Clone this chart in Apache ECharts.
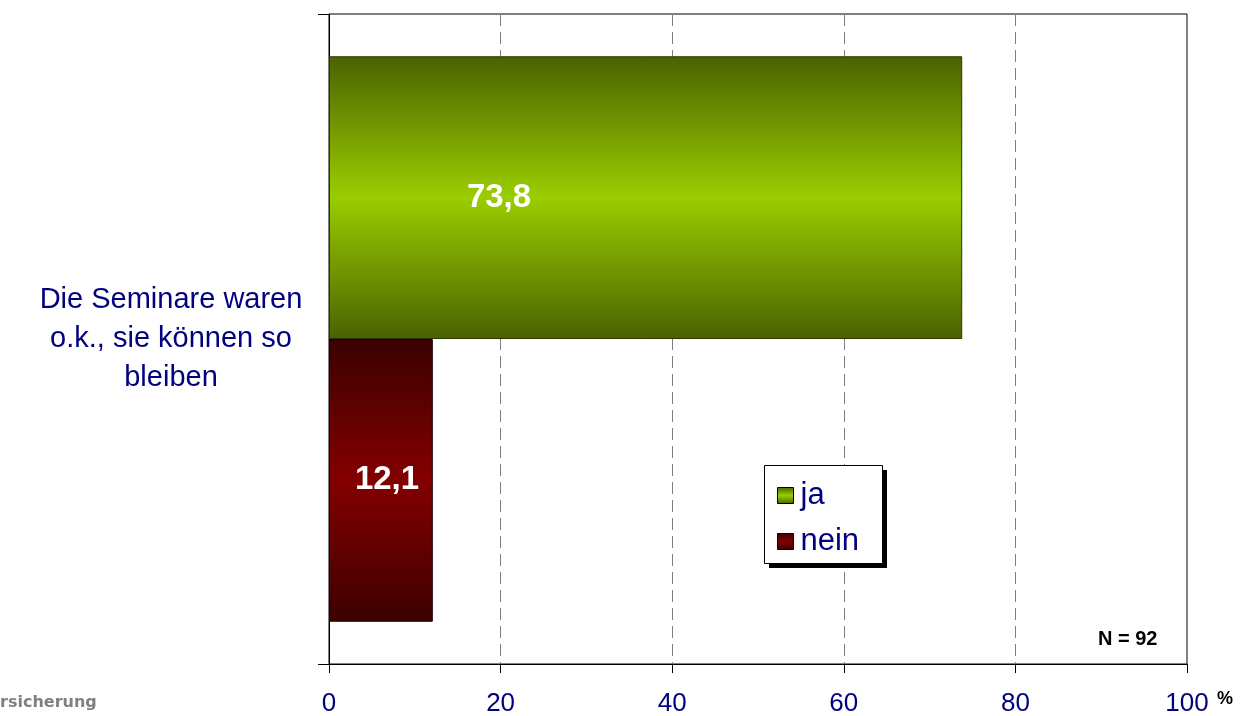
<!DOCTYPE html>
<html>
<head>
<meta charset="utf-8">
<script src="https://cdn.jsdelivr.net/npm/echarts@6/dist/echarts.min.js"></script>
<style>
  html, body { margin: 0; padding: 0; background: #fff; }
  #chart { width: 1253px; height: 716px; }
</style>
</head>
<body>
<div id="chart"></div>
<script>
// Daten
const categories = ["Die Seminare waren\no.k., sie können so\nbleiben"];
const seriesNames = ["ja", "nein"];
const jaValues = [73.8];
const neinValues = [12.1];
const xTicks = [0, 20, 40, 60, 80, 100];
const sampleNote = "N = 92";

// vertikaler Verlauf: dunkel - hell - dunkel
function shade(dark, light) {
  return new echarts.graphic.LinearGradient(0, 0, 0, 1, [
    { offset: 0, color: dark },
    { offset: 0.5, color: light },
    { offset: 1, color: dark }
  ]);
}

const fmt = p => String(p.value).replace(".", ",");

let myChart = echarts.init(document.getElementById("chart"));
let option = {
  animation: false,
  textStyle: { fontFamily: "Liberation Sans, Arial, sans-serif" },
  grid: {
    left: 329, top: 14, right: 66, bottom: 52,
    outerBoundsMode: "none",
    show: true, borderColor: "#000", borderWidth: 1
  },
  legend: {
    data: seriesNames,
    orient: "vertical",
    left: 777, top: 480,
    z: 20,
    padding: 0,
    itemGap: 15,
    itemWidth: 16, itemHeight: 16,
    icon: "rect",
    itemStyle: { borderColor: "#000", borderWidth: 1 },
    textStyle: { color: "#000080", fontSize: 31, padding: [0, 0, 0, 2] }
  },
  xAxis: {
    type: "value",
    min: xTicks[0], max: xTicks[xTicks.length - 1], interval: 20,
    name: "%",
    nameLocation: "end",
    nameGap: 30,
    nameTextStyle: { color: "#000", fontSize: 18, fontWeight: "bold", verticalAlign: "top", padding: [26, 0, 0, 0] },
    axisLine: { show: true, lineStyle: { color: "#000" } },
    axisTick: { show: true, length: 9, lineStyle: { color: "#000" } },
    axisLabel: { color: "#000080", fontSize: 26, margin: 27 },
    splitLine: { show: true, lineStyle: { color: "#7f7f7f", type: [12, 6] } }
  },
  yAxis: {
    type: "category",
    data: categories,
    axisLine: { show: true, lineStyle: { color: "#000" } },
    axisTick: { show: true, length: 11, lineStyle: { color: "#000" } },
    axisLabel: {
      color: "#000080", fontSize: 29, lineHeight: 39,
      align: "center", margin: 158, padding: [6, 0, 0, 0]
    }
  },
  series: [
    {
      name: "ja",
      type: "bar",
      data: jaValues,
      barGap: "0%",
      barCategoryGap: "13%",
      itemStyle: { color: shade("#4a6200", "#9acd00"), borderColor: "#2a3800", borderWidth: 1 },
      label: {
        show: true, position: [170, "50%"], align: "center", verticalAlign: "middle",
        color: "#fff", fontSize: 33, fontWeight: "bold", formatter: fmt
      }
    },
    {
      name: "nein",
      type: "bar",
      data: neinValues,
      barGap: "0%",
      barCategoryGap: "13%",
      itemStyle: { color: shade("#3c0000", "#830000"), borderColor: "#200000", borderWidth: 1 },
      label: {
        show: true, position: [58, "50%"], align: "center", verticalAlign: "middle",
        color: "#fff", fontSize: 33, fontWeight: "bold", formatter: fmt
      }
    }
  ],
  graphic: [
    // Legendenrahmen mit Schatten
    {
      type: "rect", z: 1, silent: true,
      shape: { x: 769, y: 470, width: 118, height: 98 },
      style: { fill: "#000" }
    },
    {
      type: "rect", z: 2, silent: true,
      shape: { x: 764.5, y: 465.5, width: 118, height: 98 },
      style: { fill: "#fff", stroke: "#000", lineWidth: 1 }
    },
    {
      type: "text", left: 1098, top: 629,
      style: { text: sampleNote, fill: "#000", font: "bold 20px Liberation Sans, Arial, sans-serif" }
    },
    {
      type: "text", left: 0, top: 695,
      style: { text: "rsicherung", fill: "#808080", font: "bold 16px DejaVu Sans, sans-serif" }
    }
  ]
};
myChart.setOption(option);
</script>
</body>
</html>
